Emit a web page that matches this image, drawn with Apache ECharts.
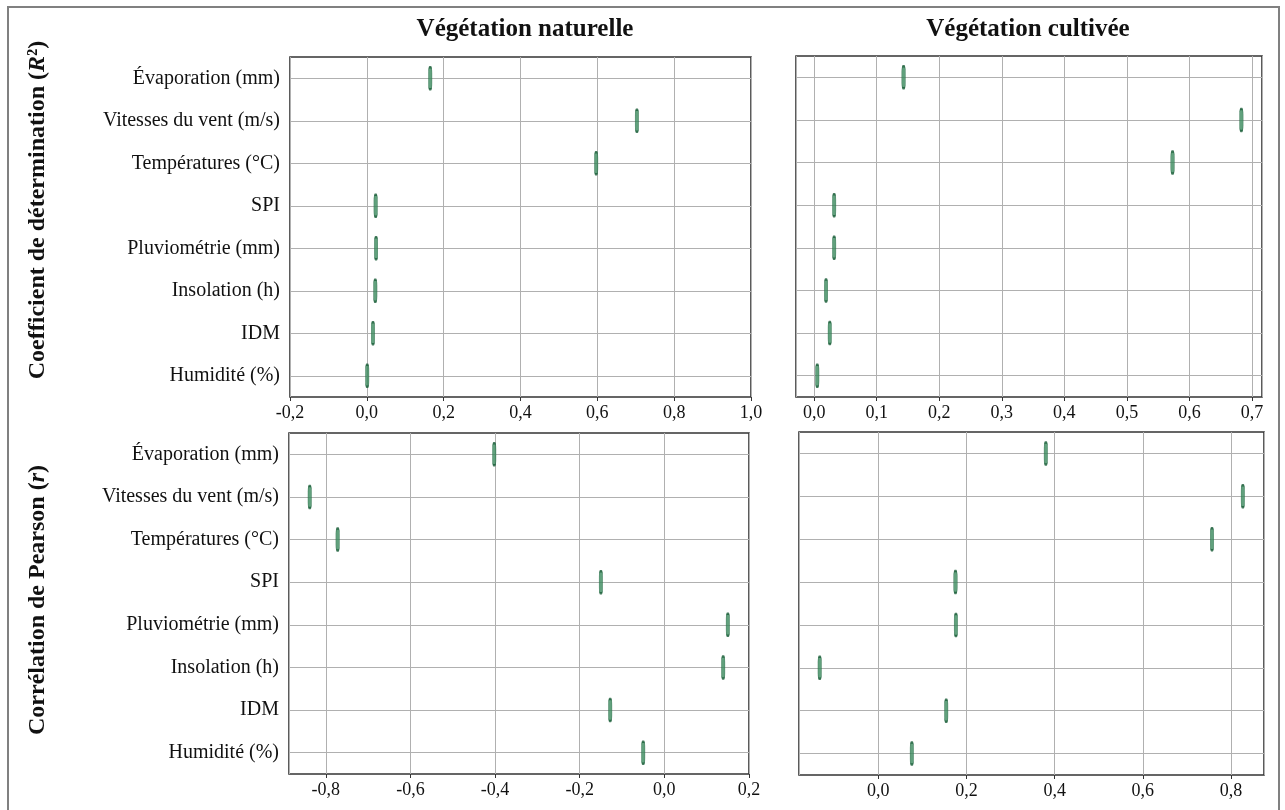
<!DOCTYPE html>
<html>
<head>
<meta charset="utf-8">
<script src="https://cdn.jsdelivr.net/npm/echarts@6/dist/echarts.min.js"></script>
<style>
html, body { margin: 0; padding: 0; background: #fff; }
#chart { width: 1285px; height: 810px; }
</style>
</head>
<body>
<div id="chart"></div>
<script>
// ---- Data ----
const categories = ['Évaporation (mm)', 'Vitesses du vent (m/s)', 'Températures (°C)', 'SPI', 'Pluviométrie (mm)', 'Insolation (h)', 'IDM', 'Humidité (%)'];
const r2Natural    = [0.165, 0.703, 0.597, 0.023, 0.024, 0.022, 0.016, 0.001];
const r2Cultivated = [0.143, 0.683, 0.573, 0.032, 0.032, 0.019, 0.025, 0.005];
const rNatural     = [-0.402, -0.838, -0.772, -0.150, 0.150, 0.139, -0.128, -0.050];
const rCultivated  = [0.380, 0.827, 0.757, 0.175, 0.176, -0.133, 0.154, 0.076];
const columnTitles = ['Végétation naturelle', 'Végétation cultivée'];
const rowTitles = ['Coefficient de détermination ({i|R}²)', 'Corrélation de Pearson ({i|r})'];
// axis ranges [min, max, step]
const xRanges = [
  [-0.2, 1.0, 0.2],
  [-0.029, 0.716, 0.1],
  [-0.887, 0.2, 0.2],
  [-0.18, 0.875, 0.2]
];

const FONT = '"Liberation Serif", "DejaVu Serif", serif';
const panels = [r2Natural, r2Cultivated, rNatural, rCultivated];
const grids = [
  { left: 290, top: 57, width: 461, height: 340 },
  { left: 796, top: 56, width: 466, height: 341 },
  { left: 289, top: 433, width: 460, height: 341 },
  { left: 799, top: 432, width: 465, height: 343 }
];

function fmt(v) {
  return (Math.round(v * 10) / 10).toFixed(1).replace('.', ',');
}

const option = {
  backgroundColor: '#ffffff',
  animation: false,
  grid: grids.map(g => Object.assign({ show: true, borderColor: '#333333', borderWidth: 1.6, backgroundColor: 'transparent', containLabel: false }, g)),
  xAxis: xRanges.map((r, i) => {
    const [mn, mx, step] = r;
    const niceMin = Math.abs(Math.round(mn / step) * step - mn) < 1e-9;
    const niceMax = Math.abs(Math.round(mx / step) * step - mx) < 1e-9;
    return {
      type: 'value', gridIndex: i, min: mn, max: mx,
      minInterval: step, maxInterval: step, splitNumber: 6,
      axisLine: { show: false },
      axisTick: { show: true, inside: false, length: 4, lineStyle: { color: '#333333', width: 1 } },
      axisLabel: { show: true, margin: 7, color: '#111', fontFamily: FONT, fontSize: 18,
        showMinLabel: niceMin, showMaxLabel: niceMax, formatter: fmt },
      splitLine: { show: true, lineStyle: { color: '#b0b0b0', width: 1 } }
    };
  }),
  yAxis: [0, 1, 2, 3].map(i => ({
    type: 'category', gridIndex: i, data: categories, inverse: true,
    axisLine: { show: false },
    axisTick: { show: true, alignWithLabel: true, length: 4, lineStyle: { color: '#333333' } },
    axisLabel: { show: i % 2 === 0, margin: 10, color: '#111', fontFamily: FONT, fontSize: 20 },
    splitLine: { show: false }
  })),
  series: panels.map((vals, i) => ({
    type: 'scatter', xAxisIndex: i, yAxisIndex: i,
    data: vals.map((v, k) => [v, categories[k]]),
    symbol: 'roundRect', symbolSize: [3.5, 22],
    itemStyle: { color: '#3a8a5d', borderColor: '#1b5e3a', borderWidth: 1 },
    z: 5,
    markLine: {
      silent: true, symbol: 'none', z: 1, animation: false,
      label: { show: false },
      lineStyle: { color: '#b0b0b0', width: 1, type: 'solid' },
      data: categories.map(c => ({ yAxis: c }))
    }
  })),
  graphic: [
    { type: 'rect', shape: { x: 8, y: 7, width: 1271, height: 830 }, style: { fill: 'none', stroke: '#808080', lineWidth: 2 }, silent: true, z: -10 },
    { type: 'text', x: 525, y: 30, style: { text: columnTitles[0], font: 'bold 25px ' + FONT, fill: '#111', align: 'center', verticalAlign: 'middle' } },
    { type: 'text', x: 1028, y: 30, style: { text: columnTitles[1], font: 'bold 25px ' + FONT, fill: '#111', align: 'center', verticalAlign: 'middle' } },
    { type: 'text', x: 38, y: 210, rotation: Math.PI / 2,
      style: { text: rowTitles[0], font: 'bold 24px ' + FONT, fontWeight: 'bold', fontSize: 24, fontFamily: FONT, fill: '#111', align: 'center', verticalAlign: 'middle',
        rich: { i: { fontStyle: 'italic', fontWeight: 'bold', fontSize: 24, fontFamily: FONT, fill: '#111' } } } },
    { type: 'text', x: 38, y: 600, rotation: Math.PI / 2,
      style: { text: rowTitles[1], font: 'bold 24px ' + FONT, fontWeight: 'bold', fontSize: 24, fontFamily: FONT, fill: '#111', align: 'center', verticalAlign: 'middle',
        rich: { i: { fontStyle: 'italic', fontWeight: 'bold', fontSize: 24, fontFamily: FONT, fill: '#111' } } } }
  ]
};

const chart = echarts.init(document.getElementById('chart'), null, { renderer: 'canvas' });
chart.setOption(option);
</script>
</body>
</html>
